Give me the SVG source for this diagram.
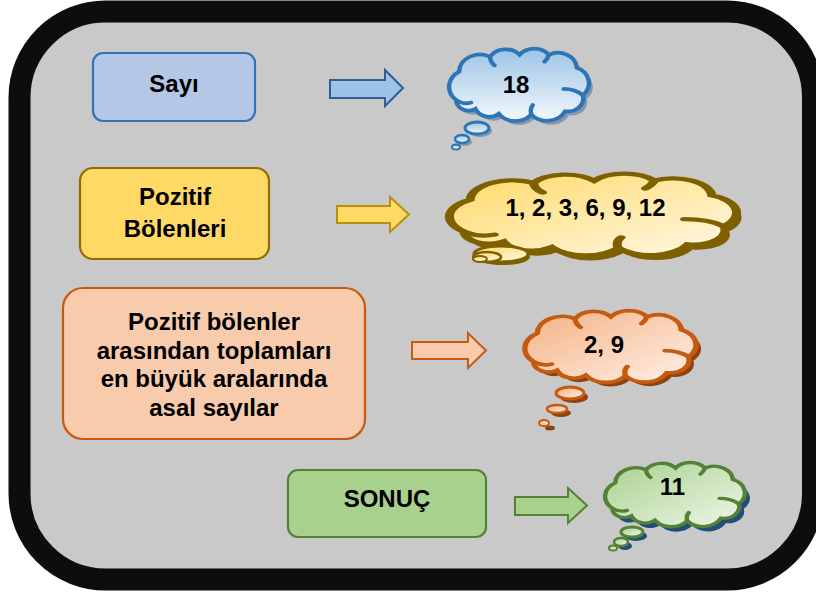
<svg xmlns="http://www.w3.org/2000/svg" xmlns:xlink="http://www.w3.org/1999/xlink" width="816" height="595" viewBox="0 0 816 595">
<style>
.t{font-family:"Liberation Sans",Arial,sans-serif;font-weight:bold;font-size:24px;fill:#000;text-anchor:middle}
.box{stroke-width:2.2}
.cl{stroke-width:3;vector-effect:non-scaling-stroke}
.curl{fill:none;stroke-width:3;vector-effect:non-scaling-stroke;stroke-linecap:round}
.arr{stroke-width:2;stroke-linejoin:miter}
</style>
<defs>
<path id="cloud" d="M7,42 A14.3,14.3 0 0 1 9,19 A14.1,14.1 0 0 1 30,7 A12.4,12.4 0 0 1 50,5.5 A12.4,12.4 0 0 1 70,5.5 A12.8,12.8 0 0 1 89,16 A13.3,13.3 0 0 1 93,38 A10.5,10.5 0 0 1 81,51 A13.7,13.7 0 0 1 58,53.5 A13.6,13.6 0 0 1 36,53 A10.1,10.1 0 0 1 20,49 A8.3,8.3 0 0 1 7,42 Z"/>
<path id="curls" d="M7,42 Q12,46 17,44 M80,33 Q88,33 93,38 M30,7 Q30,11 33,14 M58,53.5 Q57,49 59,46 M70,5.5 Q69,9 67,11"/>
<linearGradient id="gB" x1="0" y1="0" x2="0" y2="1"><stop offset="0" stop-color="#9dc3e6"/><stop offset="1" stop-color="#f3f8fd"/></linearGradient>
<linearGradient id="gY" x1="0" y1="0" x2="1" y2="1"><stop offset="0" stop-color="#ffd966"/><stop offset="1" stop-color="#fff9e8"/></linearGradient>
<linearGradient id="gO" x1="0" y1="0" x2="1" y2="1"><stop offset="0" stop-color="#f4b183"/><stop offset="1" stop-color="#fff1e8"/></linearGradient>
<linearGradient id="gG" x1="0" y1="0" x2="1" y2="1"><stop offset="0" stop-color="#a9d18e"/><stop offset="1" stop-color="#eef6e9"/></linearGradient>
</defs>
<rect x="0" y="0" width="816" height="595" fill="#ffffff"/>
<rect id="frame" x="19.5" y="11.5" width="793.5" height="568" rx="86" ry="86" fill="#c9c9c9" stroke="#0d0d0d" stroke-width="22"/>

<g id="connectors">
<polygon class="arr" points="330,80 385,80 385,70 403,88 385,106 385,98 330,98" fill="#9dc3e6" stroke="#2f5f8f"/>
<polygon class="arr" points="337,206 390,206 390,197 409,214.5 390,232 390,223 337,223" fill="#ffd966" stroke="#b8900a"/>
<polygon class="arr" points="412,342 468,342 468,333 486,350.5 468,368 468,359 412,359" fill="#f8cbad" stroke="#c55a11"/>
<polygon class="arr" points="515,497 568,497 568,488 587,505.5 568,523 568,515 515,515" fill="#a9d18e" stroke="#538135"/>
</g>

<g id="sayi">
<rect class="box" x="93" y="53" width="162" height="68" rx="10" fill="#b4c7e7" stroke="#2e75b6"/>
<text class="t" x="174" y="92">Sayı</text>
</g>

<g id="bolenler">
<rect class="box" x="80" y="168" width="189" height="91" rx="13" fill="#ffd966" stroke="#8f6d00"/>
<text class="t" x="175" y="205">Pozitif</text>
<text class="t" x="175" y="237">Bölenleri</text>
</g>

<g id="asal">
<rect class="box" x="63" y="288" width="302" height="151" rx="20" fill="#f8cbad" stroke="#c55a11"/>
<text class="t" x="214" y="330">Pozitif bölenler</text>
<text class="t" x="214" y="359">arasından toplamları</text>
<text class="t" x="214" y="387">en büyük aralarında</text>
<text class="t" x="214" y="416">asal sayılar</text>
</g>

<g id="sonuc">
<rect class="box" x="288" y="470" width="198" height="67" rx="10" fill="#a9d18e" stroke="#538135"/>
<text class="t" x="387" y="507">SONUÇ</text>
</g>

<g id="cloud18">
<use xlink:href="#cloud" transform="translate(450,52) scale(1.47,1.24)" fill="#8497b0"/>
<ellipse cx="480" cy="131" rx="12" ry="6" fill="#8497b0"/>
<ellipse cx="465" cy="142" rx="7" ry="4" fill="#8497b0"/>
<use xlink:href="#cloud" class="cl" transform="translate(446,48) scale(1.47,1.24)" fill="url(#gB)" stroke="#2e75b6"/>
<use xlink:href="#curls" class="curl" transform="translate(446,48) scale(1.47,1.24)" stroke="#2e75b6"/>
<ellipse cx="477" cy="128" rx="12" ry="6" fill="url(#gB)" stroke="#2e75b6" stroke-width="3"/>
<ellipse cx="462" cy="139" rx="7" ry="4" fill="url(#gB)" stroke="#2e75b6" stroke-width="2.5"/>
<ellipse cx="456" cy="147" rx="4" ry="2.5" fill="url(#gB)" stroke="#2e75b6" stroke-width="2"/>
<text class="t" x="516" y="93">18</text>
</g>

<g id="cloudDiv">
<use xlink:href="#cloud" transform="translate(448,178) scale(3.02,1.4)" fill="#7f6000"/>
<ellipse cx="503" cy="257" rx="27" ry="8" fill="#7f6000"/>
<use xlink:href="#cloud" class="cl" transform="translate(443,173) scale(3.02,1.4)" fill="url(#gY)" stroke="#7f6000"/>
<use xlink:href="#curls" class="curl" transform="translate(443,173) scale(3.02,1.4)" stroke="#7f6000"/>
<ellipse cx="501" cy="254" rx="27" ry="8" fill="url(#gY)" stroke="#7f6000" stroke-width="3"/>
<ellipse cx="487" cy="257" rx="14" ry="5" fill="url(#gY)" stroke="#7f6000" stroke-width="2.5"/>
<ellipse cx="480" cy="259" rx="7" ry="3" fill="url(#gY)" stroke="#7f6000" stroke-width="2"/>
<text class="t" x="585.5" y="216">1, 2, 3, 6, 9, 12</text>
</g>

<g id="cloudPrime">
<use xlink:href="#cloud" transform="translate(526,314) scale(1.8,1.23)" fill="#8f420e"/>
<ellipse cx="574" cy="397" rx="14" ry="6" fill="#8f420e"/>
<ellipse cx="561" cy="413" rx="10" ry="4" fill="#8f420e"/>
<ellipse cx="550" cy="428" rx="5" ry="2.5" fill="#8f420e"/>
<use xlink:href="#cloud" class="cl" transform="translate(521,310) scale(1.8,1.23)" fill="url(#gO)" stroke="#c55a11"/>
<use xlink:href="#curls" class="curl" transform="translate(521,310) scale(1.8,1.23)" stroke="#c55a11"/>
<ellipse cx="570" cy="393" rx="14" ry="6" fill="url(#gO)" stroke="#c55a11" stroke-width="3"/>
<ellipse cx="557" cy="409" rx="10" ry="4" fill="url(#gO)" stroke="#c55a11" stroke-width="2.5"/>
<ellipse cx="544" cy="423" rx="5" ry="3" fill="url(#gO)" stroke="#c55a11" stroke-width="2"/>
<text class="t" x="604" y="353">2, 9</text>
</g>

<g id="cloudResult">
<use xlink:href="#cloud" transform="translate(607,467) scale(1.47,1.1)" fill="#1f4e79"/>
<ellipse cx="636" cy="536" rx="11" ry="5" fill="#1f4e79"/>
<ellipse cx="625" cy="546" rx="7" ry="4" fill="#1f4e79"/>
<use xlink:href="#cloud" class="cl" transform="translate(602,462) scale(1.47,1.1)" fill="url(#gG)" stroke="#538135"/>
<use xlink:href="#curls" class="curl" transform="translate(602,462) scale(1.47,1.1)" stroke="#538135"/>
<ellipse cx="632" cy="532" rx="11" ry="5" fill="url(#gG)" stroke="#538135" stroke-width="3"/>
<ellipse cx="621" cy="542" rx="7" ry="4" fill="url(#gG)" stroke="#538135" stroke-width="2.5"/>
<ellipse cx="613" cy="548" rx="4" ry="2.5" fill="url(#gG)" stroke="#538135" stroke-width="2"/>
<text class="t" x="672.5" y="495">11</text>
</g>
</svg>
